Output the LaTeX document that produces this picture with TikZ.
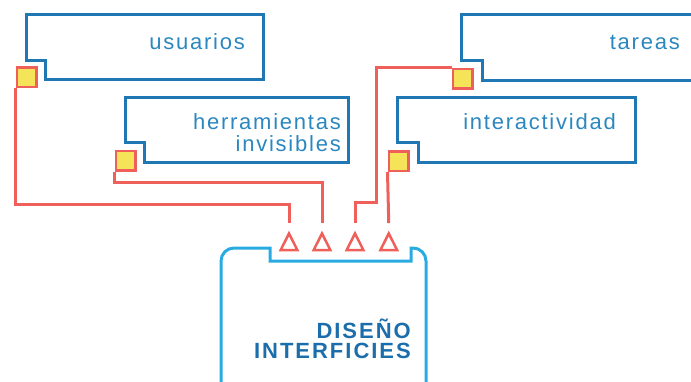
\documentclass[tikz,border=0pt]{standalone}
\usepackage{fontspec}
\setmainfont{Liberation Sans}
\newfontfamily\lblfont{Liberation Sans}[LetterSpace=8]
\newfontfamily\dsfont{Liberation Sans}[LetterSpace=9]
\definecolor{boxblue}{HTML}{1F78B4}
\definecolor{txtblue}{HTML}{2B87BF}
\definecolor{dsblue}{HTML}{29ABE2}
\definecolor{dstxt}{HTML}{1B6EAB}
\definecolor{redc}{HTML}{F0605A}
\definecolor{yel}{HTML}{F5E35A}
\begin{document}
\begin{tikzpicture}[x=1pt,y=-1pt,
  lbox/.style={draw=boxblue,line width=3pt,line join=miter},
  lbl/.style={anchor=base east,inner sep=0pt,text=txtblue,font=\lblfont\fontsize{22}{24}\selectfont},
  dslbl/.style={anchor=base east,inner sep=0pt,text=dstxt,font=\dsfont\bfseries\fontsize{22}{24}\selectfont},
  redline/.style={draw=redc,line width=3pt,line join=miter},
  sq/.style={draw=redc,fill=yel,line width=2.5pt,minimum size=19.5pt,inner sep=0pt,rectangle},
  tripic/.pic={\draw[draw=redc,line width=2.5pt,line join=miter] (-8.3,0) -- (0,-16.5) -- (8.3,0) -- cycle;}
]
\useasboundingbox (0,0) rectangle (691,381);
\clip (0,0) rectangle (691,381);
% label boxes
\draw[lbox] (26.5,14.5) -- (263.5,14.5) -- (263.5,79.5) -- (45.3,79.5) -- (45.3,60) -- (26.5,60) -- cycle;
\draw[lbox] (125.5,97.5) -- (348,97.5) -- (348,162) -- (144,162) -- (144,142.5) -- (125.5,142.5) -- cycle;
\draw[lbox] (461,14.5) -- (700,14.5) -- (700,80) -- (482,80) -- (482,60) -- (461,60) -- cycle;
\draw[lbox] (397.5,97.5) -- (635,97.5) -- (635,162) -- (418,162) -- (418,142.5) -- (397.5,142.5) -- cycle;
% labels
\node[lbl] (usuarios) at (245,49) {usuarios};
\node[lbl] (herr1) at (341,129) {herramientas};
\node[lbl] (herr2) at (341,151) {invisibles};
\node[lbl] (tareas) at (680,49) {tareas};
\node[lbl] (inter) at (616,129) {interactividad};
% diseno box
\draw[draw=dsblue,line width=3pt,line join=miter]
  (270,248) -- (270,261) -- (411,261) -- (411,248) -- (413,248)
  arc[start angle=-90,end angle=0,radius=13] -- (426,400) -- (221,400) -- (221,261)
  arc[start angle=180,end angle=270,radius=13] -- cycle;
\node[dslbl] (dis1) at (411,338) {DISEÑO};
\node[dslbl] (dis2) at (411,358) {INTERFICIES};
% connector ends
\coordinate (a1) at (289,223);
\coordinate (a2) at (322,223);
\coordinate (a3) at (355,223);
\coordinate (a4) at (388.75,223);
\coordinate (b1) at (289,204);
\coordinate (b2) at (322,182);
\coordinate (c3) at (376,202);
\coordinate (b3) at (355,202);
% squares
\node[sq] (s1) at (26.5,77) {};
\node[sq] (s2) at (125.5,160.5) {};
\node[sq] (s3) at (462.5,78.5) {};
\node[sq] (s4) at (398.5,161) {};
% connectors
\draw[redline] (s1.south west) |- (b1) -- (a1);
\draw[redline] (s2.south west) |- (b2) -- (a2);
\draw[redline] (s3.north west) -| (c3) -- (b3) -- (a3);
\draw[redline] (s4.south west) -- (a4);
% redraw squares on top
\node[sq] at (s1) {};
\node[sq] at (s2) {};
\node[sq] at (s3) {};
\node[sq] at (s4) {};
% triangles
\pic at (289,250) {tripic};
\pic at (322,250) {tripic};
\pic at (355,250) {tripic};
\pic at (388.75,250) {tripic};
\end{tikzpicture}
\end{document}
